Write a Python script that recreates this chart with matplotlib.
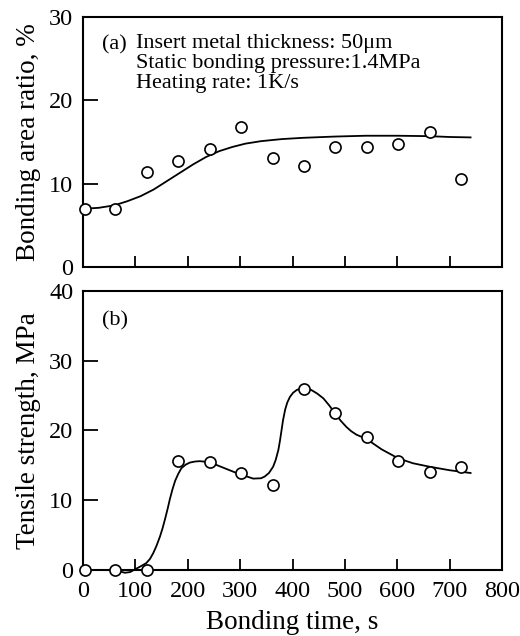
import numpy as np
import matplotlib
matplotlib.use("Agg")
import matplotlib.pyplot as plt

plt.rcParams['font.family'] = ['Liberation Serif', 'DejaVu Serif']

# bonding time of the test points, s
time_s = [4, 62, 122, 182, 242, 302, 362, 422, 482, 542, 602, 662, 722]

# (a) bonding area ratio, %
area_ratio = [6.9, 6.9, 11.4, 12.7, 14.1, 16.8, 13.1, 12.1, 14.4, 14.4, 14.8, 16.2, 10.6]
# fitted curve
area_fit_x = [4, 30, 60, 85, 110, 135, 160, 185, 210, 235, 260, 285, 310, 340, 380, 420, 480, 540, 600, 660, 700, 740]
area_fit_y = [7.0, 7.1, 7.4, 7.9, 8.5, 9.3, 10.3, 11.3, 12.3, 13.2, 13.9, 14.4, 14.8, 15.1, 15.35, 15.5, 15.65, 15.75, 15.75, 15.7, 15.6, 15.55]

# (b) tensile strength, MPa
strength = [0, 0, 0, 15.6, 15.5, 13.9, 12.2, 25.9, 22.5, 19.0, 15.6, 14.0, 14.7]
strength_fit_x = [4, 50, 70, 80, 90, 102, 112, 121, 128, 134, 140, 147, 152, 157, 162, 166, 171, 176, 182, 188,
                  196, 204, 214, 223, 236, 250, 270, 290, 305, 325, 340, 347, 355, 363, 368, 373, 376, 379, 382,
                  386, 390, 395, 401, 408, 415, 422, 429, 436, 447, 459, 470, 481, 492, 503, 512, 522, 541, 570,
                  602, 630, 662, 700, 740]
strength_fit_y = [0, 0, -0.2, -0.4, -0.3, 0.2, 0.6, 1.0, 1.6, 2.4, 3.4, 4.8, 6.0, 7.4, 8.9, 10.2, 11.6, 12.8, 13.8, 14.6,
                  15.1, 15.4, 15.55, 15.6, 15.5, 15.2, 14.6, 14.0, 13.6, 13.1, 13.15, 13.4, 13.9, 14.8, 15.8, 17.2, 18.5, 20.0, 21.5,
                  23.0, 24.0, 24.8, 25.4, 25.8, 26.0, 26.05, 26.0, 25.8, 25.3, 24.6, 23.6, 22.5, 21.4, 20.5, 19.9, 19.4, 18.8, 17.3,
                  16.0, 15.3, 14.8, 14.3, 13.9]

conditions = ['Insert metal thickness: 50μm', 'Static bonding pressure:1.4MPa', 'Heating rate: 1K/s']

fig = plt.figure(figsize=(5.2, 6.36), dpi=100)
ax1 = fig.add_axes([0.1596, 0.5802, 0.8058, 0.3931])
ax2 = fig.add_axes([0.1596, 0.1038, 0.8058, 0.4387])

mk = dict(marker='o', markersize=8, markerfacecolor='white', markeredgecolor='black',
          markeredgewidth=1.2, linestyle='none', zorder=3)

ax1.plot(area_fit_x, area_fit_y, color='black', lw=1.3)
ax1.plot(time_s, area_ratio, clip_on=False, **mk)
ax2.plot(strength_fit_x, strength_fit_y, color='black', lw=1.3, clip_on=False)
ax2.plot(time_s, strength, clip_on=False, **mk)

ax1.set_ylim(0, 30)
ax1.set_yticks([0, 10, 20, 30])
ax2.set_ylim(0, 40)
ax2.set_yticks([0, 10, 20, 30, 40])

for ax in (ax1, ax2):
    ax.set_xlim(0, 800)
    ax.set_xticks(range(0, 900, 100))
    for s in ax.spines.values():
        s.set_linewidth(1.5)
    ax.tick_params(axis='x', direction='in', length=8, width=1.3, labelsize=17.5, pad=8)
    ax.tick_params(axis='y', direction='in', length=11, width=1.3, labelsize=17.5, pad=7)

ax1.tick_params(axis='x', labelbottom=False)
ax1.set_ylabel('Bonding area ratio, %', fontsize=19.5, labelpad=6)
ax2.set_ylabel('Tensile strength, MPa', fontsize=19.5, labelpad=6)
ax2.set_xlabel('Bonding time, s', fontsize=19.5, labelpad=6)

ax1.text(0.045, 0.868, '(a)', transform=ax1.transAxes, fontsize=16, va='baseline')
ax1.text(0.127, 0.93, '\n'.join(conditions), transform=ax1.transAxes, fontsize=16,
         va='top', linespacing=1.06)
ax2.text(0.045, 0.875, '(b)', transform=ax2.transAxes, fontsize=16, va='baseline')

fig.savefig('out.png', dpi=100)
